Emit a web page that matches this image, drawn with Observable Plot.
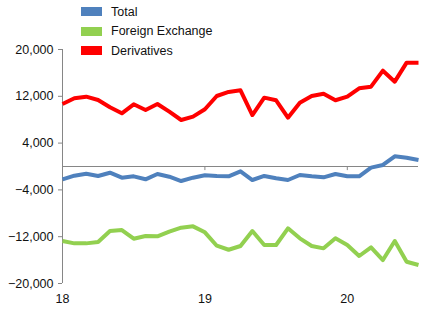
<!DOCTYPE html>
<html>
<head>
<meta charset="utf-8">
<script src="https://cdn.jsdelivr.net/npm/d3@7"></script>
<script src="https://cdn.jsdelivr.net/npm/@observablehq/plot@0.6"></script>
<style>
  html, body { margin: 0; padding: 0; background: #fff; }
  #wrap { position: relative; width: 426px; height: 310px; font-family: "Liberation Sans", Arial, sans-serif; }
  #legend { position: absolute; left: 81px; top: 2px; font-size: 12.5px; color: #111; }
  .row { display: flex; align-items: center; height: 19.5px; }
  .sw { width: 21px; height: 9px; margin-right: 9px; }
</style>
</head>
<body>
<div id="wrap"><div id="legend"></div></div>
<script>
// Months from Jan 2018 (index 0) to Jul 2020 (index 30)
const months = d3.range(31);
const tickPositions = [0, 12, 24];
const tickLabels = ["18", "19", "20"];
const yTicks = [-20000, -12000, -4000, 4000, 12000, 20000];

const seriesNames = ["Total", "Foreign Exchange", "Derivatives"];
const seriesColors = ["#4F81BD", "#92D050", "#FF0000"];

const total = [-2190, -1570, -1230, -1620, -1060, -1910, -1680, -2190, -1280, -1740,
  -2480, -1910, -1500, -1620, -1680, -820, -2310, -1620, -2020, -2310,
  -1450, -1680, -1850, -1280, -1680, -1680, -200, 260, 1740, 1510, 1110];
const foreignExchange = [-12740, -13140, -13140, -12910, -11030, -10860, -12340, -11880, -11940, -11150,
  -10460, -10230, -11250, -13540, -14230, -13590, -11030, -13420, -13420, -10570,
  -12280, -13590, -13990, -12280, -13420, -15300, -13820, -15990, -12740, -16280, -16840];
const derivatives = [10690, 11660, 11940, 11370, 10120, 9090, 10630, 9660, 10690, 9370,
  7950, 8520, 9780, 12050, 12740, 13030, 8800, 11770, 11320, 8350,
  10910, 12050, 12450, 11320, 11940, 13370, 13650, 16380, 14500, 17750, 17750];

const seriesValues = [total, foreignExchange, derivatives];
const data = seriesNames.flatMap((name, s) =>
  months.map((m, i) => ({ series: name, month: m, value: seriesValues[s][i] })));

const chart = Plot.plot({
  width: 426,
  height: 310,
  marginLeft: 62,
  marginRight: 8,
  marginTop: 49,
  marginBottom: 27,
  style: { fontFamily: "Liberation Sans, Arial, sans-serif", fontSize: "12.5px", color: "#111", background: "transparent" },
  x: { domain: [0, 30] },
  y: { domain: [-20000, 20000] },
  color: { domain: seriesNames, range: seriesColors },
  marks: [
    Plot.axisY({ ticks: yTicks, tickFormat: d3.format(","), tickSize: 4, tickPadding: 5, stroke: "#868686", label: null }),
    Plot.axisX({ ticks: tickPositions, tickFormat: (d) => tickLabels[tickPositions.indexOf(d)], tickSize: 0, tickPadding: 11, label: null }),
    Plot.ruleX([0], { y1: -20000, y2: 20000, stroke: "#868686", strokeWidth: 1 }),
    Plot.ruleY([0], { stroke: "#868686", strokeWidth: 1 }),
    Plot.ruleX(tickPositions.slice(1), { y1: 0, y2: -700, stroke: "#868686", strokeWidth: 1 }),
    Plot.line(data, { x: "month", y: "value", z: "series", stroke: "series", strokeWidth: 4, strokeLinejoin: "round", strokeLinecap: "butt" })
  ]
});
document.getElementById("wrap").prepend(chart);

const legend = document.getElementById("legend");
seriesNames.forEach((name, i) => {
  const row = document.createElement("div");
  row.className = "row";
  const sw = document.createElement("div");
  sw.className = "sw";
  sw.style.background = seriesColors[i];
  const t = document.createElement("span");
  t.textContent = name;
  row.append(sw, t);
  legend.append(row);
});
</script>
</body>
</html>
